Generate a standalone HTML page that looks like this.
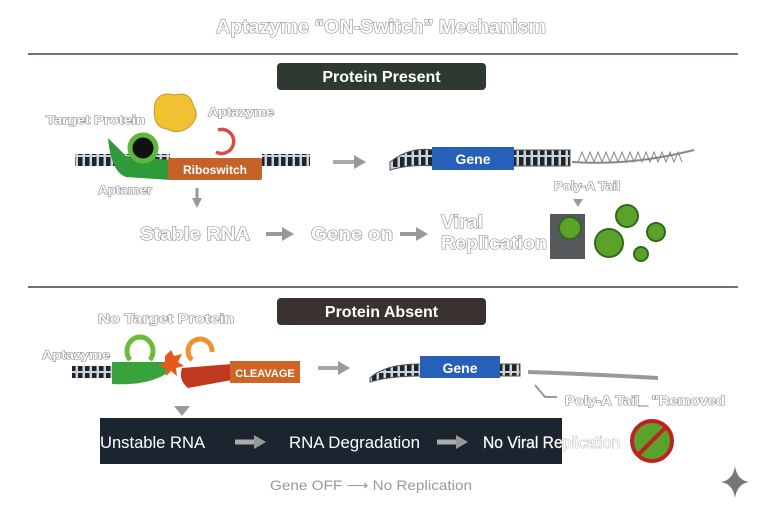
<!DOCTYPE html>
<html><head><meta charset="utf-8"><style>
html,body{margin:0;padding:0;background:#fff;}
svg{display:block;}
.o{font-family:"Liberation Sans",sans-serif;font-weight:bold;fill:#fff;stroke:#8a8a8a;stroke-width:1.1;paint-order:stroke;}
.w{font-family:"Liberation Sans",sans-serif;fill:#fff;}
.g{font-family:"Liberation Sans",sans-serif;fill:#999;}
</style></head><body>
<svg width="768" height="515" viewBox="0 0 768 515" xmlns="http://www.w3.org/2000/svg">
<defs>
<pattern id="dna" width="7" height="12" patternUnits="userSpaceOnUse"><rect width="7" height="12" fill="#cfd4d8"/><rect x="1" y="1" width="4.5" height="10" fill="#1c2530"/></pattern>
<marker id="ah" markerWidth="12" markerHeight="14" refX="2" refY="7" orient="auto" markerUnits="userSpaceOnUse"><path d="M0,0L12,7L0,14z" fill="#999"/></marker>
<marker id="ahs" markerWidth="10" markerHeight="10" refX="2" refY="5" orient="auto" markerUnits="userSpaceOnUse"><path d="M0,0L10,5L0,10z" fill="#999"/></marker>
</defs>
<text x="216" y="33" textLength="330" lengthAdjust="spacingAndGlyphs" class="o" font-size="19">Aptazyme “ON-Switch” Mechanism</text>
<rect x="28" y="53" width="710" height="2" fill="#6a7480"/>
<rect x="277" y="63" width="209" height="27" rx="4" fill="#2e3a2f"/>
<text x="381.5" y="82" text-anchor="middle" class="w" font-size="16" font-weight="bold">Protein Present</text>
<!-- top row -->
<text x="46" y="124" textLength="99" lengthAdjust="spacingAndGlyphs" class="o" font-size="12">Target Protein</text>
<text x="208" y="116" textLength="66" lengthAdjust="spacingAndGlyphs" class="o" font-size="12">Aptazyme</text>
<path d="M155,103 q5,-12 20,-8 q15,-4 18,10 q8,12 -4,22 q-10,8 -22,2 q-16,-2 -12,-26z" fill="#f0c232" stroke="#c9962a"/>
<rect x="75" y="154" width="95" height="12" fill="url(#dna)"/>
<rect x="262" y="154" width="48" height="12" fill="url(#dna)"/>
<path d="M108,138 l18,18 l45,4 v20 l-45,-3 q-15,-5 -18,-39z" fill="#2f9a3a"/>
<circle cx="143" cy="148" r="13" fill="#111" stroke="#5cb83c" stroke-width="5"/>
<rect x="168" y="158" width="94" height="22" rx="2" fill="#c4622a"/>
<text x="215" y="174" text-anchor="middle" class="w" font-size="12" font-weight="bold">Riboswitch</text>
<path d="M218,130 a12,12 0 1 1 -2,22" fill="none" stroke="#e04848" stroke-width="3.5"/>
<text x="98" y="194" textLength="54" lengthAdjust="spacingAndGlyphs" class="o" font-size="12">Aptamer</text>
<line x1="197" y1="188" x2="197" y2="200" stroke="#999" stroke-width="3" marker-end="url(#ahs)"/>
<line x1="333" y1="162" x2="356" y2="162" stroke="#aaa" stroke-width="4" marker-end="url(#ah)"/>
<path d="M390,162 q20,-16 45,-12 l135,0 l0,16 l-135,0 q-25,-2 -45,4z" fill="url(#dna)" stroke="#555"/>
<rect x="432" y="147" width="82" height="23" fill="#2660b8"/>
<text x="473" y="164" text-anchor="middle" class="w" font-size="14" font-weight="bold">Gene</text>
<path d="M572,162 q60,4 122,-12" fill="none" stroke="#888" stroke-width="2"/>
<path d="M578,162 l4,-10 l4,10 l4,-10 l4,10 l4,-10 l4,10 l4,-10 l4,10 l4,-10 l4,10 l4,-10 l4,10 l4,-10 l4,10 l4,-10 l4,10 l4,-10 l4,10 l4,-10 l4,10 l4,-10 l4,10 l4,-10 l4,10 l4,-10 l4,10" fill="none" stroke="#888"/>
<text x="554" y="190" textLength="66" lengthAdjust="spacingAndGlyphs" class="o" font-size="12">Poly-A Tail</text>
<path d="M573,199 h10 l-5,8z" fill="#999"/>
<text x="140" y="240" textLength="110" lengthAdjust="spacingAndGlyphs" class="o" font-size="18">Stable RNA</text>
<line x1="266" y1="234" x2="284" y2="234" stroke="#999" stroke-width="4" marker-end="url(#ah)"/>
<text x="311" y="240" textLength="82" lengthAdjust="spacingAndGlyphs" class="o" font-size="18">Gene on</text>
<line x1="400" y1="234" x2="418" y2="234" stroke="#999" stroke-width="4" marker-end="url(#ah)"/>
<text x="441" y="228" textLength="42" lengthAdjust="spacingAndGlyphs" class="o" font-size="18">Viral</text>
<text x="441" y="249" textLength="106" lengthAdjust="spacingAndGlyphs" class="o" font-size="18">Replication</text>
<rect x="550" y="214" width="35" height="45" fill="#2a2f33" opacity="0.8"/>
<g fill="#5aa22a" stroke="#2f6b18" stroke-width="2">
<circle cx="570" cy="228" r="11"/><circle cx="627" cy="216" r="11"/><circle cx="609" cy="243" r="14"/><circle cx="656" cy="232" r="9"/><circle cx="641" cy="254" r="7"/></g>
<rect x="28" y="286" width="710" height="2" fill="#6a7480"/>
<!-- bottom -->
<rect x="277" y="298" width="209" height="27" rx="4" fill="#3a322f"/>
<text x="381.5" y="317" text-anchor="middle" class="w" font-size="16" font-weight="bold">Protein Absent</text>
<text x="98" y="323" textLength="136" lengthAdjust="spacingAndGlyphs" class="o" font-size="13">No Target Protein</text>
<text x="42" y="359" textLength="68" lengthAdjust="spacingAndGlyphs" class="o" font-size="12">Aptazyme</text>
<rect x="72" y="366" width="42" height="12" fill="url(#dna)"/>
<path d="M112,362 h54 v12 q-20,12 -54,10z" fill="#3aa23a"/>
<path d="M130,360 a13,14 0 1 1 20,0" fill="none" stroke="#6cbc3c" stroke-width="5"/>
<path d="M165,356 l6,-6 l3,6 l8,-2 l-4,8 l6,4 l-8,2 l1,8 l-6,-5 l-5,5 l0,-8 l-7,-2 l6,-4z" fill="#e8581c"/>
<path d="M182,368 l50,-4 v16 l-44,8 q-10,-8 -6,-20z" fill="#c0381e"/>
<path d="M192,360 a12,12 0 1 1 20,-8" fill="none" stroke="#f09030" stroke-width="5"/>
<rect x="230" y="361" width="70" height="22" fill="#cf6424"/>
<text x="265" y="377" text-anchor="middle" class="w" font-size="11" font-weight="bold">CLEAVAGE</text>
<line x1="318" y1="368" x2="340" y2="368" stroke="#aaa" stroke-width="4" marker-end="url(#ah)"/>
<path d="M370,378 q15,-14 50,-14 l100,0 l0,12 l-100,0 q-30,0 -50,6z" fill="url(#dna)" stroke="#555"/>
<rect x="420" y="356" width="80" height="22" fill="#2660b8"/>
<text x="460" y="373" text-anchor="middle" class="w" font-size="14" font-weight="bold">Gene</text>
<path d="M528,372 q60,2 130,6" fill="none" stroke="#999" stroke-width="4"/>
<path d="M535,385 l10,12 l12,0" fill="none" stroke="#999" stroke-width="2"/>
<text x="565" y="405" textLength="160" lengthAdjust="spacingAndGlyphs" class="o" font-size="13">Poly-A Tail_ "Removed</text>
<path d="M174,406 h16 l-8,10z" fill="#999"/>
<rect x="100" y="418" width="462" height="46" fill="#1b2530"/>
<text x="100" y="448" textLength="105" lengthAdjust="spacingAndGlyphs" class="w" font-size="17">Unstable RNA</text>
<line x1="235" y1="442" x2="256" y2="442" stroke="#aaa" stroke-width="5" marker-end="url(#ah)"/>
<text x="289" y="448" textLength="131" lengthAdjust="spacingAndGlyphs" class="w" font-size="17">RNA Degradation</text>
<line x1="437" y1="442" x2="458" y2="442" stroke="#aaa" stroke-width="5" marker-end="url(#ah)"/>
<text x="483" y="448" textLength="137" lengthAdjust="spacingAndGlyphs" class="w" font-size="17" stroke="#8a8a8a" stroke-width="0.6" paint-order="stroke">No Viral Replication</text>
<circle cx="652" cy="441" r="20" fill="#5aa22a" stroke="#c02020" stroke-width="4"/>
<line x1="638" y1="455" x2="666" y2="427" stroke="#c02020" stroke-width="4"/>
<text x="270" y="490" textLength="202" lengthAdjust="spacingAndGlyphs" class="g" font-size="14">Gene OFF ⟶ No Replication</text>
<path d="M735,466 q2,14 14,16 q-12,2 -14,16 q-2,-14 -14,-16 q12,-2 14,-16z" fill="#777"/>
</svg>
</body></html>
